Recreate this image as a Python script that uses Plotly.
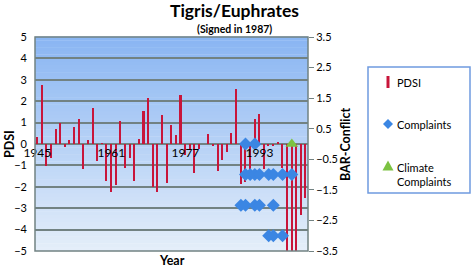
import plotly.graph_objects as go

years = list(range(1945, 2004))
pdsi = [0.33, 2.78, -1.03, -0.65, 0.68, 0.96, -0.12, 0.19, 0.81, 1.15,
        -1.15, 0.19, 1.68, -0.78, 0.03, -1.74, -2.22, -1.9, 1.07, -1.12,
        -0.67, -1.74, 0.22, 1.56, 2.15, -1.99, -2.25, 1.35, -1.8, 0.9,
        0.44, 2.3, -0.51, -0.22, -1.34, -0.22, 0.0, 0.47, -0.08, -1.24,
        -0.76, -0.36, 0.51, 2.55, -1.88, -1.78, -1.25, 1.18, 1.38, -1.16,
        -0.06, -0.06, 0.1, -1.14, -5.6, -5.6, -5.6, -3.31, -2.5]

complaint_years = [1990, 1992,
                   1990, 1991, 1992, 1993, 1995, 1996, 1998, 2000,
                   1989, 1990, 1992, 1993, 1996,
                   1995, 1996, 1998]
complaint_vals = [0, 0,
                  -1, -1, -1, -1, -1, -1, -1, -1,
                  -2, -2, -2, -2, -2,
                  -3, -3, -3]

climate_years = [2000]
climate_vals = [0]

x_ticks = [1945, 1961, 1977, 1993]
legend_labels = ["PDSI", "Complaints", "Climate<br>Complaints"]

RED, BLUE, GREEN = "#C8153A", "#3B86E3", "#7CC242"
GRID = "#728282"
fig = go.Figure()

L, R, T, B = 35, 164, 37, 17
W, H = 472, 268
pw, ph = W - L - R, H - T - B


def px(x, y):
    return (x - L) / pw, (H - B - y) / ph


# gradient background strips
n = 60
top = (138, 182, 243)
bot = (228, 238, 250)
for i in range(n):
    f = i / (n - 1)
    c = tuple(int(top[k] + (bot[k] - top[k]) * f) for k in range(3))
    fig.add_shape(type="rect", xref="paper", yref="paper",
                  x0=0, x1=1, y0=1 - (i + 1) / n, y1=1 - i / n + 0.002,
                  fillcolor="rgb(%d,%d,%d)" % c, line=dict(width=0), layer="below")

fig.add_trace(go.Bar(x=years, y=pdsi, name=legend_labels[0], marker=dict(color=RED, line=dict(width=0)),
                     width=0.33))
fig.add_trace(go.Scatter(x=complaint_years, y=complaint_vals, yaxis="y2", mode="markers",
                         name=legend_labels[1],
                         marker=dict(symbol="diamond", size=10, color=BLUE)))
fig.add_trace(go.Scatter(x=climate_years, y=climate_vals, yaxis="y2", mode="markers",
                         name=legend_labels[2],
                         marker=dict(symbol="triangle-up", size=11, color=GREEN)))

fig.add_shape(type="rect", xref="paper", yref="paper", x0=0, x1=1, y0=0, y1=1,
              line=dict(color=GRID, width=1.5), layer="above")

# manual legend box
x0, y0 = px(368, 67)
x1, y1 = px(470, 193)
fig.add_shape(type="rect", xref="paper", yref="paper", x0=x0, x1=x1, y0=y1, y1=y0,
              line=dict(color="#6F9BE0", width=1.5), fillcolor="white")
# PDSI icon (thin bar)
a0, b0 = px(386.5, 76)
a1, b1 = px(389.5, 88)
fig.add_shape(type="rect", xref="paper", yref="paper", x0=a0, x1=a1, y0=b1, y1=b0,
              line=dict(width=0), fillcolor=RED)


def path(points):
    s = ""
    for i, (x, y) in enumerate(points):
        u, v = px(x, y)
        s += ("M" if i == 0 else "L") + " %.5f %.5f " % (u, v)
    return s + "Z"


cx, cy = 388, 124
fig.add_shape(type="path", xref="paper", yref="paper",
              path=path([(cx, cy - 5), (cx + 5, cy), (cx, cy + 5), (cx - 5, cy)]),
              fillcolor=BLUE, line=dict(width=0))
cx, cy = 388, 166
fig.add_shape(type="path", xref="paper", yref="paper",
              path=path([(cx, cy - 5.5), (cx + 5.5, cy + 4.5), (cx - 5.5, cy + 4.5)]),
              fillcolor=GREEN, line=dict(width=0))


def ann(text, x, y, size, angle=0, xanchor="center"):
    ax, ay = px(x, y)
    return dict(text=text, x=ax, y=ay, xref="paper", yref="paper", showarrow=False,
                xanchor=xanchor, yanchor="middle", textangle=angle, font=dict(size=size),
                align="left")


font = "Lato, Open Sans, sans-serif"
fig.update_layout(
    width=W, height=H,
    margin=dict(l=L, r=R, t=T, b=B),
    paper_bgcolor="white", plot_bgcolor="rgba(0,0,0,0)",
    font=dict(family=font, size=11, color="black"),
    showlegend=False,
    bargap=0,
    xaxis=dict(range=[1944.5, 2003.5], tickvals=x_ticks, ticktext=[str(t) for t in x_ticks],
               showgrid=False, zeroline=False, showline=False, ticks="",
               anchor="free", position=0.5, tickfont=dict(size=12)),
    yaxis=dict(range=[-5, 5], dtick=1, tick0=0, showgrid=True, gridcolor=GRID, gridwidth=1.5,
               zeroline=False, showline=False, ticks="", tickfont=dict(size=11),
               ticklabelstandoff=7),
    yaxis2=dict(range=[-3.5, 3.5], dtick=1, tick0=3.5, overlaying="y", side="right",
                showgrid=False, zeroline=False, showline=False, ticks="outside", ticklen=5,
                tickcolor=GRID, tickfont=dict(size=11), tickformat=".1f"),
    annotations=[
        ann("<b>Tigris/Euphrates</b>", 234, 10, 17.5),
        ann("<b>(Signed in 1987)</b>", 234, 28.5, 10.5),
        ann("<b>Year</b>", 172, 260, 12.5),
        ann("<b>PDSI</b>", 9, 144, 12.5, -90),
        ann("<b>BAR-Conflict</b>", 345, 144, 12.5, -90),
        ann(legend_labels[0], 395, 82, 11, xanchor="left"),
        ann(legend_labels[1], 395, 124, 11, xanchor="left"),
        ann(legend_labels[2], 395, 174, 11, xanchor="left"),
    ],
)

fig.write_html("out.html", config={"displayModeBar": False},
               post_script="document.body.style.margin='0';document.body.style.overflow='hidden';")
